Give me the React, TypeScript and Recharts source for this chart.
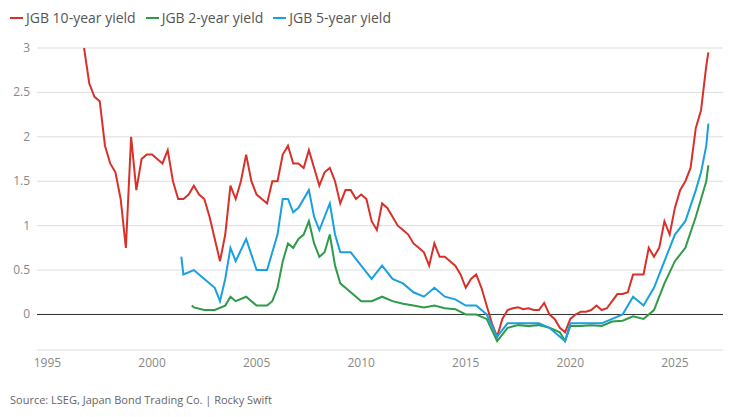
import { LineChart, Line, XAxis, YAxis, CartesianGrid, ReferenceLine } from "recharts"

const tenYearX = [1996.75, 1997, 1997.25, 1997.5, 1997.75, 1998, 1998.25, 1998.5, 1998.75, 1999, 1999.25, 1999.5, 1999.75, 2000, 2000.25, 2000.5, 2000.75, 2001, 2001.25, 2001.5, 2001.75, 2002, 2002.25, 2002.5, 2002.75, 2003, 2003.25, 2003.5, 2003.75, 2004, 2004.25, 2004.5, 2004.75, 2005, 2005.25, 2005.5, 2005.75, 2006, 2006.25, 2006.5, 2006.75, 2007, 2007.25, 2007.5, 2007.75, 2008, 2008.25, 2008.5, 2008.75, 2009, 2009.25, 2009.5, 2009.75, 2010, 2010.25, 2010.5, 2010.75, 2011, 2011.25, 2011.5, 2011.75, 2012, 2012.25, 2012.5, 2012.75, 2013, 2013.25, 2013.5, 2013.75, 2014, 2014.25, 2014.5, 2014.75, 2015, 2015.25, 2015.5, 2015.75, 2016, 2016.25, 2016.5, 2016.75, 2017, 2017.25, 2017.5, 2017.75, 2018, 2018.25, 2018.5, 2018.75, 2019, 2019.25, 2019.5, 2019.75, 2020, 2020.25, 2020.5, 2020.75, 2021, 2021.25, 2021.5, 2021.75, 2022, 2022.25, 2022.5, 2022.75, 2023, 2023.25, 2023.5, 2023.75, 2024, 2024.25, 2024.5, 2024.75, 2025, 2025.25, 2025.5, 2025.75, 2026, 2026.25, 2026.5, 2026.6]
const tenYear = [3.0, 2.6, 2.45, 2.4, 1.9, 1.7, 1.6, 1.3, 0.75, 2.0, 1.4, 1.75, 1.8, 1.8, 1.75, 1.7, 1.85, 1.5, 1.3, 1.3, 1.35, 1.45, 1.35, 1.3, 1.1, 0.85, 0.6, 0.9, 1.45, 1.3, 1.5, 1.8, 1.5, 1.35, 1.3, 1.25, 1.5, 1.5, 1.8, 1.9, 1.7, 1.7, 1.65, 1.85, 1.65, 1.45, 1.6, 1.65, 1.5, 1.25, 1.4, 1.4, 1.3, 1.35, 1.3, 1.05, 0.95, 1.25, 1.2, 1.1, 1.0, 0.95, 0.9, 0.8, 0.75, 0.7, 0.55, 0.8, 0.65, 0.65, 0.6, 0.55, 0.45, 0.3, 0.4, 0.45, 0.3, 0.1, -0.1, -0.25, -0.05, 0.05, 0.07, 0.08, 0.06, 0.07, 0.05, 0.05, 0.13, 0.0, -0.05, -0.15, -0.2, -0.05, 0.0, 0.03, 0.03, 0.05, 0.1, 0.05, 0.07, 0.15, 0.23, 0.23, 0.25, 0.45, 0.45, 0.45, 0.75, 0.65, 0.75, 1.05, 0.9, 1.2, 1.4, 1.5, 1.65, 2.1, 2.3, 2.8, 2.95]

const twoYearX = [2001.9, 2002, 2002.5, 2003, 2003.5, 2003.75, 2004, 2004.5, 2005, 2005.5, 2005.75, 2006, 2006.25, 2006.5, 2006.75, 2007, 2007.25, 2007.5, 2007.75, 2008, 2008.25, 2008.5, 2008.75, 2009, 2009.5, 2010, 2010.5, 2011, 2011.5, 2012, 2012.5, 2013, 2013.5, 2014, 2014.5, 2015, 2015.5, 2016, 2016.5, 2017, 2017.5, 2018, 2018.5, 2019, 2019.5, 2019.75, 2020, 2020.5, 2021, 2021.5, 2022, 2022.5, 2023, 2023.5, 2024, 2024.5, 2025, 2025.5, 2026, 2026.25, 2026.5, 2026.6]
const twoYear = [0.1, 0.08, 0.05, 0.05, 0.1, 0.2, 0.15, 0.2, 0.1, 0.1, 0.15, 0.3, 0.6, 0.8, 0.75, 0.85, 0.9, 1.05, 0.8, 0.65, 0.7, 0.9, 0.55, 0.35, 0.25, 0.15, 0.15, 0.2, 0.15, 0.12, 0.1, 0.08, 0.1, 0.07, 0.06, 0.0, 0.0, -0.05, -0.3, -0.15, -0.12, -0.13, -0.12, -0.15, -0.2, -0.3, -0.13, -0.13, -0.12, -0.13, -0.08, -0.07, -0.02, -0.05, 0.05, 0.35, 0.6, 0.75, 1.1, 1.3, 1.5, 1.68]

const fiveYearX = [2001.4, 2001.5, 2002, 2002.5, 2003, 2003.25, 2003.5, 2003.75, 2004, 2004.5, 2005, 2005.5, 2005.75, 2006, 2006.25, 2006.5, 2006.75, 2007, 2007.5, 2007.75, 2008, 2008.5, 2008.75, 2009, 2009.5, 2010, 2010.5, 2011, 2011.5, 2012, 2012.5, 2013, 2013.5, 2014, 2014.5, 2015, 2015.5, 2016, 2016.5, 2017, 2017.5, 2018, 2018.5, 2019, 2019.5, 2019.75, 2020, 2020.5, 2021, 2021.5, 2022, 2022.5, 2023, 2023.5, 2024, 2024.5, 2025, 2025.5, 2026, 2026.25, 2026.5, 2026.6]
const fiveYear = [0.65, 0.45, 0.5, 0.4, 0.3, 0.15, 0.4, 0.75, 0.6, 0.85, 0.5, 0.5, 0.7, 0.9, 1.3, 1.3, 1.15, 1.2, 1.4, 1.1, 0.95, 1.25, 0.9, 0.7, 0.7, 0.55, 0.4, 0.55, 0.4, 0.35, 0.25, 0.2, 0.3, 0.2, 0.17, 0.1, 0.1, 0.0, -0.25, -0.1, -0.1, -0.1, -0.1, -0.15, -0.25, -0.3, -0.1, -0.1, -0.1, -0.1, -0.05, 0.0, 0.2, 0.1, 0.3, 0.6, 0.9, 1.05, 1.4, 1.6, 1.9, 2.15]

const xTicks = [1995, 2000, 2005, 2010, 2015, 2020, 2025]
const yTicks = [0, 0.5, 1, 1.5, 2, 2.5, 3]

const series = [
  { name: "JGB 10-year yield", color: "#d7312a", data: tenYearX.map((x, i) => ({ x, y: tenYear[i] })) },
  { name: "JGB 2-year yield", color: "#2f9a48", data: twoYearX.map((x, i) => ({ x, y: twoYear[i] })) },
  { name: "JGB 5-year yield", color: "#1aa0df", data: fiveYearX.map((x, i) => ({ x, y: fiveYear[i] })) },
]

const font = "'Open Sans', sans-serif"

function YTick({ y, payload }: any) {
  return (
    <text x={30} y={y} dy={4} textAnchor="end" fill="#888" fontSize={12} fontFamily={font}>
      {payload.value}
    </text>
  )
}

export default function App() {
  document.body.style.margin = "0"
  return (
    <div style={{ position: "relative", width: 737, height: 417, background: "#fff", fontFamily: font }}>
      <div style={{ position: "absolute", top: 8, left: 10, display: "flex", gap: 10, fontSize: 14, color: "#555" }}>
        {series.map((s) => (
          <span key={s.name} style={{ display: "flex", alignItems: "center", gap: 3 }}>
            <span style={{ width: 13, height: 2, background: s.color, display: "inline-block" }} />
            {s.name}
          </span>
        ))}
      </div>
      <LineChart width={737} height={375} margin={{ top: 48, right: 14, left: 0, bottom: 0 }}>
        <CartesianGrid vertical={false} stroke="#ddd" />
        <XAxis
          type="number"
          dataKey="x"
          domain={[1994.5, 2027.3]}
          ticks={xTicks}
          allowDuplicatedCategory={false}
          tick={{ fill: "#888", fontSize: 12, fontFamily: font }}
          tickLine={false}
          axisLine={false}
          height={25}
        />
        <YAxis
          type="number"
          dataKey="y"
          domain={[-0.4, 3]}
          ticks={yTicks}
          width={37}
          tick={<YTick />}
          tickLine={false}
          axisLine={false}
        />
        <ReferenceLine y={0} stroke="#333" />
        {series.map((s) => (
          <Line
            key={s.name}
            data={s.data}
            dataKey="y"
            type="linear"
            stroke={s.color}
            strokeWidth={2}
            dot={false}
            isAnimationActive={false}
          />
        ))}
      </LineChart>
      <div style={{ position: "absolute", top: 392, left: 10, fontSize: 11, color: "#666" }}>
        Source: LSEG, Japan Bond Trading Co. | Rocky Swift
      </div>
    </div>
  )
}
